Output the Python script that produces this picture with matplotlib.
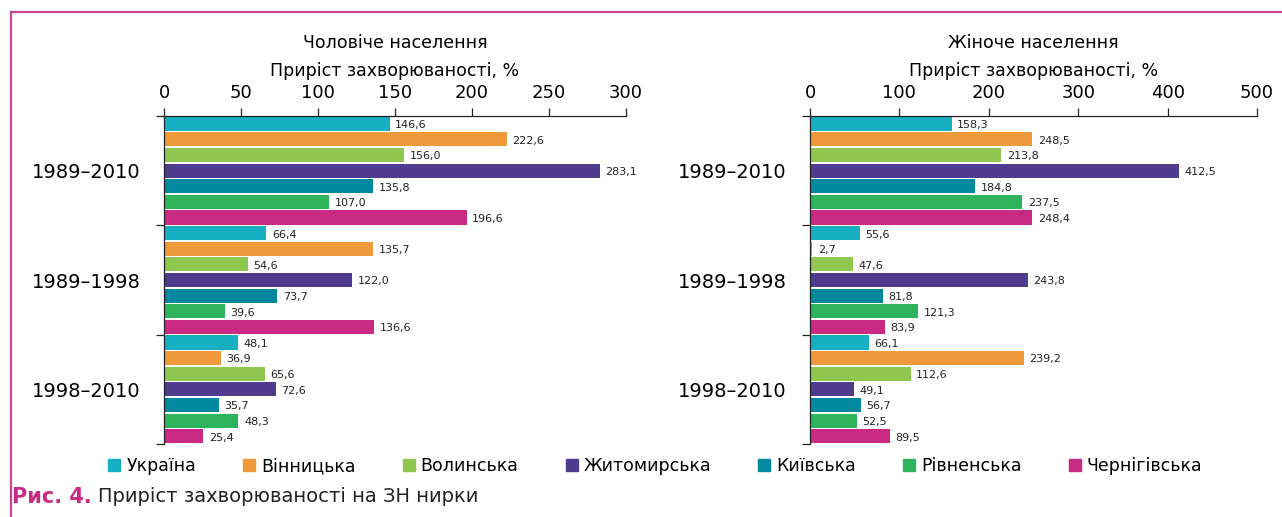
import matplotlib
matplotlib.use("Agg")
import matplotlib.pyplot as plt
import numpy as np
from matplotlib.lines import Line2D

periods = ["1989–2010", "1989–1998", "1998–2010"]
regions = ["Україна", "Вінницька", "Волинська", "Житомирська", "Київська", "Рівненська", "Чернігівська"]
colors = ["#17b0c2", "#f0993b", "#8fc750", "#4f3c8e", "#00889f", "#2db45c", "#c92a83"]

# rows = periods, columns = regions
male = [
    [146.6, 222.6, 156.0, 283.1, 135.8, 107.0, 196.6],
    [66.4, 135.7, 54.6, 122.0, 73.7, 39.6, 136.6],
    [48.1, 36.9, 65.6, 72.6, 35.7, 48.3, 25.4],
]
female = [
    [158.3, 248.5, 213.8, 412.5, 184.8, 237.5, 248.4],
    [55.6, 2.7, 47.6, 243.8, 81.8, 121.3, 83.9],
    [66.1, 239.2, 112.6, 49.1, 56.7, 52.5, 89.5],
]

male_ticks = [0, 50, 100, 150, 200, 250, 300]
female_ticks = [0, 100, 200, 300, 400, 500]

W, H = 1282, 517
fig = plt.figure(figsize=(W / 100, H / 100), dpi=100)

pink = "#c8478f"
fig.add_artist(Line2D([11 / W, 1], [1 - 12 / H, 1 - 12 / H], color=pink, lw=1.6))
fig.add_artist(Line2D([11 / W, 11 / W], [0, 1 - 12 / H], color=pink, lw=1.6))


def draw_panel(rect, data, ticks, title):
    ax = fig.add_axes(rect)
    n = len(regions)
    slot = 1.0 / n
    for g, vals in enumerate(data):
        for j, v in enumerate(vals):
            y = g + (j + 0.5) * slot
            ax.barh(y, v, height=slot * 0.9, color=colors[j], linewidth=0)
            ax.annotate(f"{v:.1f}".replace(".", ","), (v, y), xytext=(4, -1),
                        textcoords="offset points", va="center", ha="left",
                        fontsize=8, color="#222222")
    ax.set_ylim(len(data), 0)
    ax.set_xlim(ticks[0], ticks[-1])
    ax.xaxis.tick_top()
    ax.set_xticks(ticks)
    ax.set_xticklabels([str(t) for t in ticks], fontsize=13)
    ax.tick_params(axis="x", direction="out", length=6, width=0.9, pad=4, color="#222222")
    # group boundaries get the ticks, group centres get the labels
    ax.set_yticks(np.arange(len(data) + 1))
    ax.set_yticklabels([])
    ax.tick_params(axis="y", which="major", direction="out", length=6, width=0.9, color="#222222")
    ax.set_yticks(np.arange(len(data)) + 0.5, minor=True)
    ax.set_yticklabels(periods, minor=True, fontsize=14)
    ax.tick_params(axis="y", which="minor", length=0, pad=17)
    for s in ["right", "bottom"]:
        ax.spines[s].set_visible(False)
    for s in ["top", "left"]:
        ax.spines[s].set_linewidth(0.9)
        ax.spines[s].set_color("#222222")
    ax.text(0.5, 1 + 73 / 328, title, transform=ax.transAxes, ha="center", va="center", fontsize=12.5)
    ax.text(0.5, 1 + 45 / 328, "Приріст захворюваності, %", transform=ax.transAxes,
            ha="center", va="center", fontsize=12.5)
    return ax


ax_h = (444 - 116) / H
draw_panel([164 / W, 1 - 444 / H, 462 / W, ax_h], male, male_ticks, "Чоловіче населення")
draw_panel([810 / W, 1 - 444 / H, 447 / W, ax_h], female, female_ticks, "Жіноче населення")

handles = [Line2D([], [], marker="s", ls="none", markersize=9, color=c) for c in colors]
fig.legend(handles, regions, loc="center", bbox_to_anchor=(654 / W, 1 - 466 / H), ncol=7,
           frameon=False, fontsize=12.5, handletextpad=0.2, columnspacing=2.55, handlelength=1.0)

t1 = fig.text(12 / W, 1 - 497 / H, "Рис. 4.", fontsize=15, fontweight="bold", color="#c92a83",
              ha="left", va="center")
fig.canvas.draw()
bb = t1.get_window_extent()
fig.text((bb.x1 + 6) / W, 1 - 497 / H, "Приріст захворюваності на ЗН нирки", fontsize=14,
         color="#222222", ha="left", va="center")

fig.savefig("out.png", dpi=100)
